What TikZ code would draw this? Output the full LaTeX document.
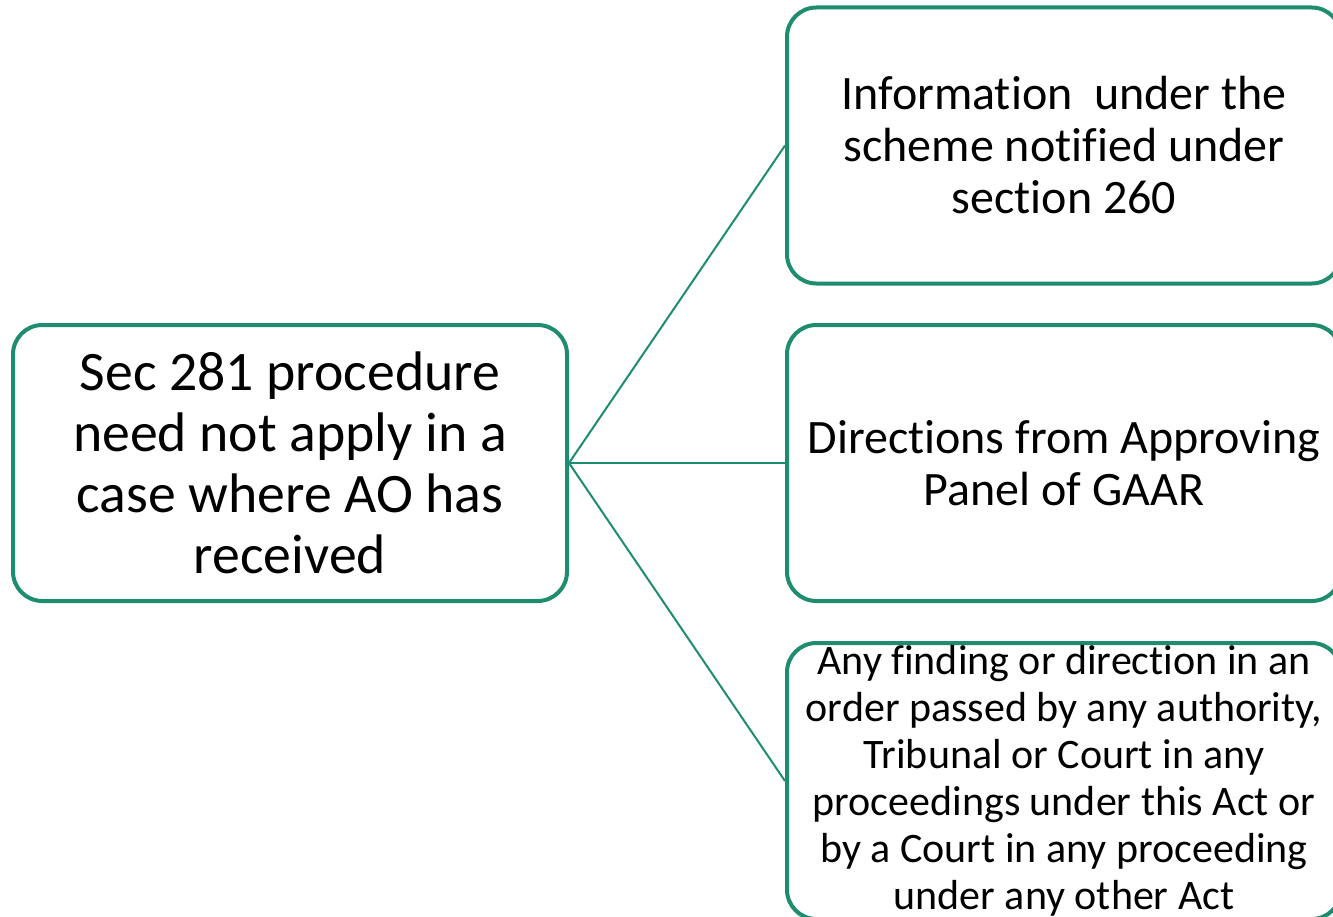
\documentclass[tikz,border=0pt]{standalone}
\usepackage{fontspec}
\setmainfont{Carlito}[RawFeature=-liga]
\definecolor{boxgreen}{HTML}{1E8C6E}
\begin{document}
\begin{tikzpicture}[x=0.75pt,y=-0.75pt,
  box/.style={draw=boxgreen, line width=3pt, rounded corners=22pt, fill=white,
    minimum width=554*0.75pt, minimum height=276*0.75pt, align=center, inner sep=0pt},
  big/.style={font=\fontsize{41.8}{45.75}\selectfont},
  mid/.style={font=\fontsize{36}{39}\selectfont},
  small/.style={font=\fontsize{31.5}{35.25}\selectfont},
  conn/.style={draw=boxgreen, line width=1.5pt}]
\useasboundingbox (0,0) rectangle (1333,916);
\clip (0,0) rectangle (1333,916);
\node[box,big] (L) at (290,463) {Sec 281 procedure\\need not apply in a\\case where AO has\\received};
\node[box,mid] (T) at (1064,145.5) {Information\ \ under the\\scheme notified under\\section 260};
\node[box,mid] (M) at (1064,463) {Directions from Approving\\Panel of GAAR};
\node[box,small] (B) at (1064,781) {Any finding or direction in an\\order passed by any authority,\\Tribunal or Court in any\\proceedings under this Act or\\by a Court in any proceeding\\under any other Act};
\draw[conn] (L.east) -- (T.west);
\draw[conn] (L.east) -- (M.west);
\draw[conn] (L.east) -- (B.west);
\end{tikzpicture}
\end{document}
